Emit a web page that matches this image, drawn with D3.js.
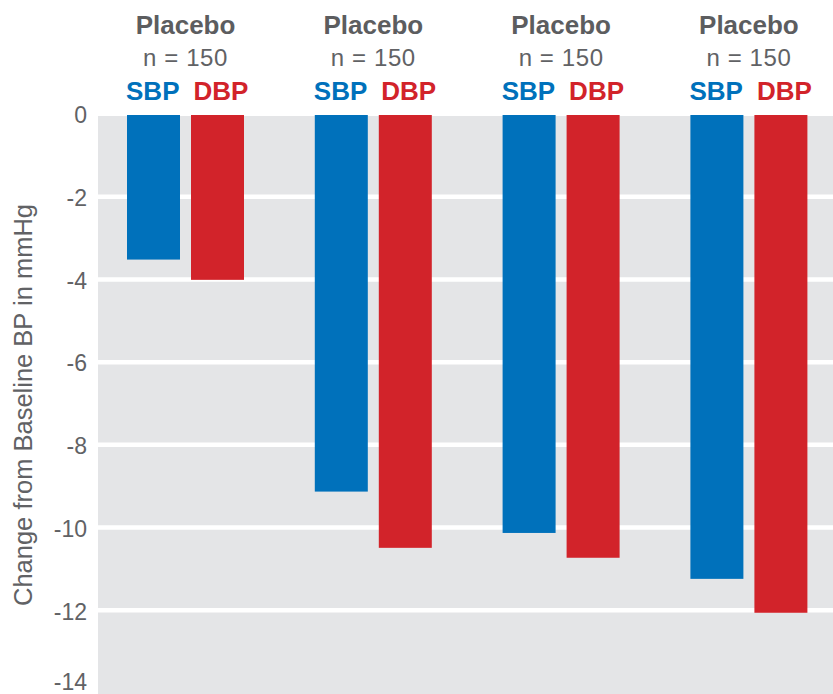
<!DOCTYPE html>
<html>
<head>
<meta charset="utf-8">
<script src="https://cdn.jsdelivr.net/npm/d3@7"></script>
<style>
  html, body { margin: 0; padding: 0; background: #ffffff; }
  svg { display: block; font-family: "Liberation Sans", Arial, Helvetica, sans-serif; }
</style>
</head>
<body>
<svg id="chart" width="833" height="694"></svg>
<script>
// ---- data ----
const groups = ["G1", "G2", "G3", "G4"];
const groupTitles = ["Placebo", "Placebo", "Placebo", "Placebo"];
const groupN = ["n = 150", "n = 150", "n = 150", "n = 150"];
const series = ["SBP", "DBP"];
const sbpValues = [-3.52, -9.13, -10.13, -11.24];
const dbpValues = [-4.01, -10.49, -10.73, -12.06];
const yTicks = [0, -2, -4, -6, -8, -10, -12, -14];
const yTitle = "Change from Baseline BP in mmHg";

const colors = { SBP: "#0071bb", DBP: "#d2232a" };

const svg = d3.select("#chart");
const plot = { left: 98, right: 833, top: 114, bottom: 693 };

const y = d3.scaleLinear().domain([0, -14]).range([plot.top, plot.bottom]);

const x0 = d3.scaleBand().domain(groups)
  .range([91.6, 842.8]).paddingInner(0.377).paddingOuter(0.1885);
const x1 = d3.scaleBand().domain(series)
  .range([0, x0.bandwidth()]).paddingInner(0.172);

// background
svg.append("rect")
  .attr("x", plot.left).attr("y", y(0) + 2)
  .attr("width", plot.right - plot.left)
  .attr("height", plot.bottom - y(0))
  .attr("fill", "#e4e5e7");

// gridlines
svg.append("g").selectAll("line")
  .data(yTicks.filter(d => d !== 0 && d !== -14))
  .join("line")
  .attr("x1", plot.left).attr("x2", plot.right)
  .attr("y1", d => y(d)).attr("y2", d => y(d))
  .attr("stroke", "#ffffff").attr("stroke-width", 4.5);

// y tick labels
svg.append("g").selectAll("text")
  .data(yTicks)
  .join("text")
  .attr("x", 87)
  .attr("y", d => Math.min(y(d) + 1, 682))
  .attr("dy", "0.36em")
  .attr("text-anchor", "end")
  .attr("font-size", 23)
  .attr("fill", "#616265")
  .text(d => d === 0 ? "0" : "-" + Math.abs(d));

// y title
svg.append("text")
  .attr("transform", `translate(32, 405) rotate(-90)`)
  .attr("text-anchor", "middle")
  .attr("font-size", 25.5)
  .attr("fill", "#616265")
  .text(yTitle);

// bars
const rows = groups.map((g, i) => ({ g, SBP: sbpValues[i], DBP: dbpValues[i] }));
const gGroups = svg.append("g").selectAll("g")
  .data(rows)
  .join("g")
  .attr("transform", d => `translate(${x0(d.g)},0)`);

gGroups.selectAll("rect")
  .data(d => series.map(s => ({ s, v: d[s] })))
  .join("rect")
  .attr("x", d => x1(d.s))
  .attr("width", x1.bandwidth())
  .attr("y", d => y(0) + 1)
  .attr("height", d => y(d.v) - y(0) - 1)
  .attr("fill", d => colors[d.s]);

// headers
const header = svg.append("g").selectAll("g")
  .data(rows)
  .join("g")
  .attr("transform", d => `translate(${x0(d.g) + x0.bandwidth() / 2},0)`);

header.append("text")
  .attr("y", 34)
  .attr("text-anchor", "middle")
  .attr("font-size", 26)
  .attr("font-weight", "bold")
  .attr("fill", "#5c5d5f")
  .text((d, i) => groupTitles[i]);

header.append("text")
  .attr("y", 66)
  .attr("text-anchor", "middle")
  .attr("font-size", 24)
  .attr("fill", "#616265")
  .attr("letter-spacing", 0.6)
  .text((d, i) => groupN[i]);

header.append("text")
  .attr("x", -6)
  .attr("y", 100)
  .attr("text-anchor", "end")
  .attr("font-size", 26)
  .attr("font-weight", "bold")
  .attr("fill", colors.SBP)
  .text(series[0]);

header.append("text")
  .attr("x", 8)
  .attr("y", 100)
  .attr("text-anchor", "start")
  .attr("font-size", 26)
  .attr("font-weight", "bold")
  .attr("fill", colors.DBP)
  .text(series[1]);
</script>
</body>
</html>
